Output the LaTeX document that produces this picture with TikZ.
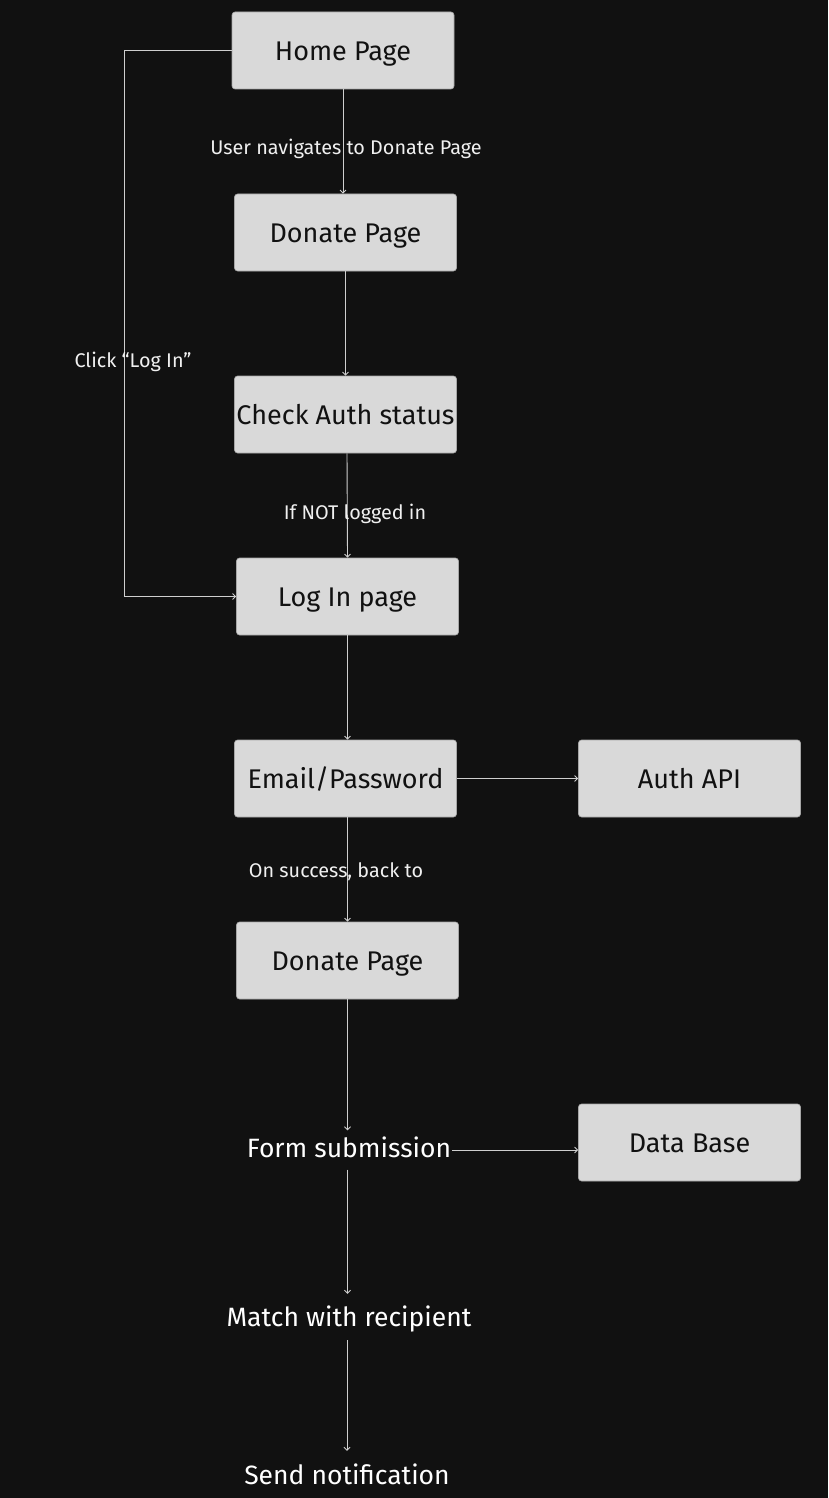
\documentclass[tikz,border=0pt]{standalone}
\usepackage{fontspec}
\setmainfont{Fira Sans}
\usepackage{tikz}
\usetikzlibrary{arrows.meta}
\definecolor{bgcol}{HTML}{111111}
\definecolor{boxcol}{HTML}{D9D9D9}
\definecolor{linecol}{HTML}{CFCFCF}
\tikzstyle{every page node}=[rectangle,rounded corners=3pt,fill=boxcol,draw=gray!70,line width=0.6pt,minimum width=222pt,minimum height=77pt,inner sep=0pt,text height=20pt,text depth=0pt,text=bgcol,font=\fontsize{27}{31}\selectfont]
\tikzstyle{every step node}=[inner xsep=1pt,inner ysep=0pt,text height=19pt,text depth=0pt,text=white,font=\fontsize{26.5}{30}\selectfont]
\tikzstyle{every label node}=[inner sep=0pt,text height=14pt,text depth=0pt,text=white!94!black,font=\fontsize{19.8}{23}\selectfont]
\tikzstyle{flow}=[draw=linecol,line width=0.9pt,-{Straight Barb[length=3pt,width=6pt]}]

\begin{document}
\begin{tikzpicture}[x=1pt,y=-1pt]
\fill[bgcol] (0,0) rectangle (828,1498);
\useasboundingbox (0,0) rectangle (828,1498);

\node[every page node] (home) at (343, 50.5) {Home Page};
\node[every page node] (donate) at (345.5, 232.5) {Donate Page};
\node[every page node] (check) at (345.5, 414.5) {Check Auth status};
\node[every page node] (login) at (347.5, 596.5) {Log In page};
\node[every page node] (email) at (345.5, 778.5) {Email/Password};
\node[every page node] (authapi) at (689.5, 778.5) {Auth API};
\node[every page node] (donateb) at (347.5, 960.5) {Donate Page};
\node[every page node] (database) at (689.5, 1142.5) {Data Base};

\node[every step node, minimum height=39pt, text depth=4pt] (form) at (349, 1150) {Form submission};
\node[every step node, minimum height=46pt] (match) at (349, 1317) {Match with recipient};
\node[every step node, minimum height=48pt] (send) at (347, 1475) {Send notification};

\draw[flow] (home.south) -- (donate.north -| home.south);
\draw[flow] (donate.south) -- (check.north);
\draw[flow] (check.south -| 347,0) -- (login.north);
\draw[flow] (login.south) -- (login.south |- email.north);
\draw[flow] (email.east) -- (authapi.west);
\draw[flow] (login.south |- email.south) -- (donateb.north);
\draw[flow] (donateb.south) -- (donateb.south |- form.north);
\draw[flow] (form.east) -- (form.east -| database.west);
\draw[flow] (form.south -| donateb.south) -- (donateb.south |- match.north);
\draw[flow] (match.south -| send.north) -- (send.north);
\draw[flow] (home.west) -- ++(-107,0) |- (login.west);

\node[every label node] (navlabel) at (346, 148) {User navigates to Donate Page};
\node[every label node] (loglabel) at (355, 512) {If NOT logged in};
\node[every label node] (oklabel) at (336, 870) {On success, back to};
\node[every label node] (clicklabel) at (133, 360) {Click “Log In”};

\end{tikzpicture}
\end{document}
